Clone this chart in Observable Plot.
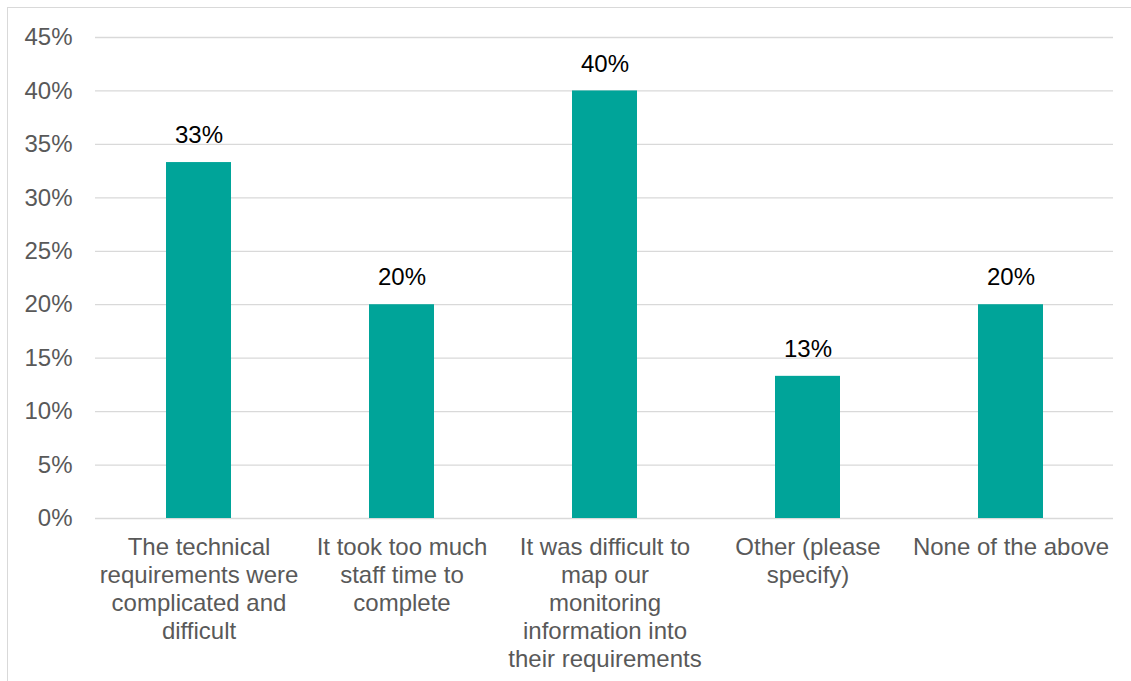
<!DOCTYPE html>
<html>
<head>
<meta charset="utf-8">
<script src="https://cdn.jsdelivr.net/npm/d3@7"></script>
<script src="https://cdn.jsdelivr.net/npm/@observablehq/plot@0.6"></script>
<style>
  html, body { margin: 0; padding: 0; background: #fff; }
  #wrap { position: relative; width: 1131px; height: 681px; overflow: hidden; }
  #frame { position: absolute; left: 7px; top: 7px; width: 1140px; height: 700px;
           border-left: 1px solid #d9d9d9; border-top: 1px solid #d9d9d9; }
  #chart { position: absolute; left: 0; top: 0; }
</style>
</head>
<body>
<div id="wrap"><div id="frame"></div><div id="chart"></div></div>
<script>
// Survey answers (share of respondents)
const categories = [
  "The technical\nrequirements were\ncomplicated and\ndifficult",
  "It took too much\nstaff time to\ncomplete",
  "It was difficult to\nmap our\nmonitoring\ninformation into\ntheir requirements",
  "Other (please\nspecify)",
  "None of the above"
];
const shares = [33.3, 20, 40, 13.3, 20];
const yTicks = [0, 5, 10, 15, 20, 25, 30, 35, 40, 45];

const data = categories.map((c, i) => ({category: c, share: shares[i]}));

const font = "'Liberation Sans', Arial, sans-serif";
const fs = 24;

const chart = Plot.plot({
  width: 1131,
  height: 681,
  marginLeft: 95,
  marginRight: 18,
  marginTop: 37,
  marginBottom: 163,
  style: {fontFamily: font, fontSize: fs + "px", background: "transparent", overflow: "visible"},
  x: {domain: categories, paddingInner: 0.68, paddingOuter: 0.34, label: null},
  y: {domain: [0, 45], label: null},
  marks: [
    Plot.gridY(yTicks, {stroke: "#d9d9d9", strokeOpacity: 1, strokeWidth: 1.3}),
    Plot.barY(data, {x: "category", y: "share", fill: "#00a499"}),
    Plot.text(data, {
      x: "category", y: "share",
      text: d => Math.round(d.share) + "%",
      dy: -27, fill: "#000", fontSize: fs
    }),
    Plot.axisY(yTicks, {
      tickSize: 0, tickPadding: 23, fill: "#595959", fontSize: fs,
      tickFormat: d => d + "%", label: null
    }),
    Plot.axisX({
      tickSize: 0, tickPadding: 17, fill: "#595959", fontSize: fs,
      lineHeight: 1.16, label: null
    })
  ]
});

document.getElementById("chart").appendChild(chart);
</script>
</body>
</html>
